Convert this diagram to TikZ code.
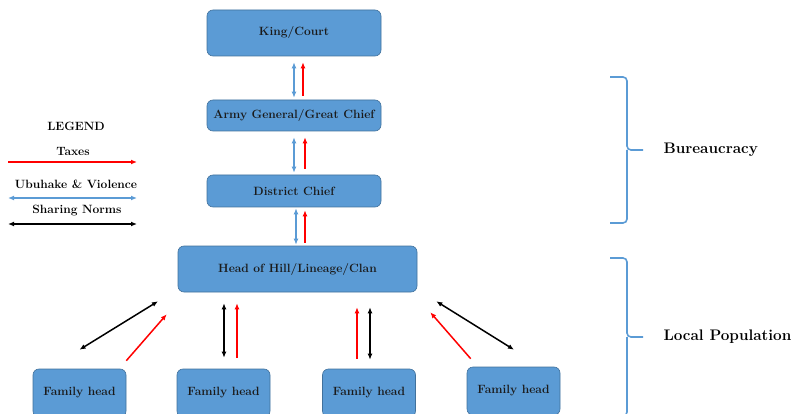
\documentclass[tikz,border=0pt]{standalone}
\usetikzlibrary{arrows.meta,calc}
\definecolor{boxfill}{HTML}{5B9BD5}
\definecolor{boxedge}{HTML}{41719C}
\definecolor{taxred}{HTML}{FF0000}
\definecolor{ink}{HTML}{1A1A1A}

\begin{document}
\begin{tikzpicture}[x=1pt, y=-1pt,
    font=\fontsize{12pt}{14pt}\selectfont\bfseries,
    rank/.style={draw=boxedge, fill=boxfill, rounded corners=6pt, line width=0.6pt,
      text=ink, minimum width=174pt, minimum height=#1, inner sep=0pt},
    rank/.default=31pt,
    famhead/.style={draw=boxedge, fill=boxfill, rounded corners=6pt, line width=0.6pt,
      text=ink, minimum width=93pt, minimum height=48pt, inner sep=0pt},
    tax/.style={taxred, line width=1.5pt, -{Latex[length=6pt,width=5pt]}},
    ubuhake/.style={boxfill, line width=1.8pt, {Latex[length=6pt,width=5pt]}-{Latex[length=6pt,width=5pt]}},
    share/.style={black, line width=1.5pt, {Latex[length=6pt,width=5pt]}-{Latex[length=6pt,width=5pt]}},
    curly/.style={boxfill, line width=1.6pt, rounded corners=4pt},
    grouplabel/.style={anchor=west, font=\fontsize{15.3pt}{18pt}\selectfont\bfseries}]
  \clip (0,0) rectangle (792,414);

  % hierarchy
  \node[rank=46pt] (king) at (294,33) {King/Court};
  \node[rank] (army) at (294,115.5) {Army General/Great Chief};
  \node[rank=32pt] (district) at (294,191) {District Chief};
  \node[rank=46pt, minimum width=239pt] (head) at (297.5,269) {Head of Hill/Lineage/Clan};

  \node[famhead] (fam1) at (79.5,393) {Family head};
  \node[famhead] (fam2) at (223.5,393) {Family head};
  \node[famhead] (fam3) at (369,393) {Family head};
  \node[famhead] (fam4) at (513.5,391) {Family head};

  % vertical links
  \draw[ubuhake] ($(king.south)+(0,6)$) -- ($(army.north)+(0,-2)$);
  \draw[tax] ($(army.north)+(9,-4)$) -- ($(king.south)+(9,6)$);
  \draw[ubuhake] ($(army.south)+(0,6)$) -- ($(district.north)+(0,-2)$);
  \draw[tax] ($(district.north)+(11,-6)$) -- ($(army.south)+(11,6)$);
  \draw[ubuhake] ($(district.south)+(2,1)$) -- ($(head.north)+(-1.5,-1)$);
  \draw[tax] ($(head.north)+(7.5,-3)$) -- ($(district.south)+(11,3)$);

  % family links
  \draw[share] ($(fam1.north)+(0,-19)$) -- ($(head.south)+(-139.5,9)$);
  \draw[tax] ($(fam1.north east)+(0,-8)$) -- ($(head.south west)+(-11,22)$);
  \draw[share] ($(fam2.north |- head.south)+(0.5,11)$) -- ($(fam2.north)+(0.5,-11)$);
  \draw[tax] ($(fam2.north)+(13.5,-11)$) -- ($(fam2.north |- head.south)+(13.5,11)$);
  \draw[tax] ($(fam3.north)+(-12,-10)$) -- ($(fam3.north |- head.south)+(-12,15)$);
  \draw[share] ($(fam3.north |- head.south)+(1,15)$) -- ($(fam3.north)+(1,-9)$);
  \draw[tax] ($(fam4.north west)+(4,-8)$) -- ($(head.south east)+(13,20)$);
  \draw[share] ($(head.south east)+(19,9)$) -- ($(fam4.north)+(0.5,-17)$);

  % legend
  \node (legend) at (76,126) {LEGEND};
  \node (taxes) at (73,151) {Taxes};
  \coordinate (taxL) at (8,162);
  \coordinate (taxR) at (137,162);
  \draw[tax] (taxL) -- (taxR);
  \node (violence) at (76,184) {Ubuhake \& Violence};
  \coordinate (vioL) at (8,198);
  \coordinate (vioR) at (137,198);
  \draw[ubuhake] (vioL) -- (vioR);
  \node (norms) at (77,211) {Sharing Norms};
  \coordinate (normL) at (8,224);
  \coordinate (normR) at (137,224);
  \draw[share] (normL) -- (normR);

  % braces
  \draw[curly] (610,77) -| (627,150) -- (643,150);
  \draw[curly] (610,223) -| (627,150);
  \node[grouplabel] (bureau) at (660,150) {Bureaucracy};
  \draw[curly] (610,258) -| (627,337) -- (643,337);
  \draw[curly] (610,416) -| (627,337);
  \node[grouplabel] (local) at (660,337) {Local Population};
\end{tikzpicture}
\end{document}
